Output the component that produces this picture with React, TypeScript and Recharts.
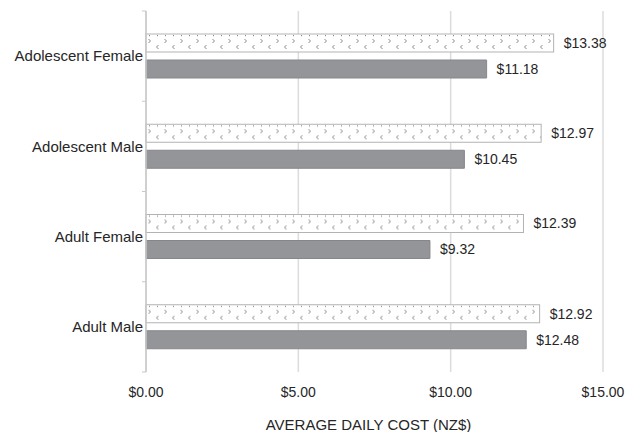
import React from 'react';
import {
  BarChart,
  Bar,
  XAxis,
  YAxis,
  CartesianGrid,
  LabelList,
} from 'recharts';

const categories = ['Adolescent Female', 'Adolescent Male', 'Adult Female', 'Adult Male'];
const patternedCost = [13.38, 12.97, 12.39, 12.92];
const solidCost = [11.18, 10.45, 9.32, 12.48];
const xTicks = [0, 5, 10, 15];

const data = categories.map((name, i) => ({
  name,
  patterned: patternedCost[i],
  solid: solidCost[i],
}));

const FONT = '"Liberation Sans", Arial, Helvetica, sans-serif';
const TEXT = '#262626';

const money = (v: number) => `$${Number(v).toFixed(2)}`;

// hatched bar: white with little gray chevrons
const PatternBar = (props: any) => {
  const { x, y, width, height, index } = props;
  const id = `chev-${index}`;
  return (
    <g>
      <defs>
        <pattern id={id} patternUnits="userSpaceOnUse" x={x} y={y} width={16} height={18}>
          <rect x={0} y={0} width={16} height={18} fill="#fff" />
          <rect x={3} y={1} width={1} height={1.2} fill="#8a8a8a" />
          <rect x={11} y={1} width={1} height={1.2} fill="#8a8a8a" />
          <polyline points="2.5,5 4.5,7 2.5,9" fill="none" stroke="#8a8a8a" strokeWidth={1} />
          <polyline points="12.5,11 10.5,13 12.5,15" fill="none" stroke="#8a8a8a" strokeWidth={1} />
        </pattern>
      </defs>
      <rect x={x} y={y} width={width} height={height} fill={`url(#${id})`} stroke="#b3b3b3" strokeWidth={1} />
    </g>
  );
};

// category label with boundary tick marks like the original
const CategoryTick = (props: any) => {
  const { x, y, payload, index, visibleTicksCount } = props;
  const half = 90.25 / 2;
  return (
    <g>
      <line x1={x - 2} x2={x + 2} y1={y - half} y2={y - half} stroke="#c8c8c8" />
      {index === visibleTicksCount - 1 && (
        <line x1={x - 2} x2={x + 2} y1={y + half} y2={y + half} stroke="#c8c8c8" />
      )}
      <text x={x - 1} y={y} dy="0.35em" textAnchor="end" fontSize={15} fill={TEXT} fontFamily={FONT}>
        {payload.value}
      </text>
    </g>
  );
};

export default function App() {
  return (
    <div style={{ position: 'absolute', left: 0, top: 0, background: '#fff' }}>
      <BarChart
        width={638}
        height={432}
        data={data}
        layout="vertical"
        margin={{ top: 11, right: 35, bottom: 0, left: 0 }}
        barSize={18}
        barGap={8}
      >
        <CartesianGrid horizontal={false} stroke="#dcdcdc" strokeWidth={1.5} />
        <XAxis
          type="number"
          domain={[0, 15]}
          ticks={xTicks}
          tickFormatter={money}
          axisLine={false}
          tickLine={false}
          tickMargin={9}
          height={60}
          tick={{ fontSize: 14, fill: TEXT, fontFamily: FONT }}
          label={{
            value: 'AVERAGE DAILY COST (NZ$)',
            position: 'insideBottom',
            offset: 2,
            dx: -6,
            fontSize: 15,
            fill: TEXT,
            fontFamily: FONT,
          }}
        />
        <YAxis
          type="category"
          dataKey="name"
          width={146}
          axisLine={{ stroke: '#c8c8c8', strokeWidth: 1.5 }}
          tickLine={false}
          tickSize={0}
          tickMargin={2}
          tick={<CategoryTick />}
        />
        <Bar dataKey="patterned" shape={<PatternBar />} isAnimationActive={false}>
          <LabelList
            dataKey="patterned"
            position="right"
            offset={10}
            formatter={money}
            style={{ fontSize: 14, fill: TEXT, fontFamily: FONT }}
          />
        </Bar>
        <Bar dataKey="solid" fill="#939598" stroke="#86878a" strokeWidth={1} isAnimationActive={false}>
          <LabelList
            dataKey="solid"
            position="right"
            offset={10}
            formatter={money}
            style={{ fontSize: 14, fill: TEXT, fontFamily: FONT }}
          />
        </Bar>
      </BarChart>
    </div>
  );
}
